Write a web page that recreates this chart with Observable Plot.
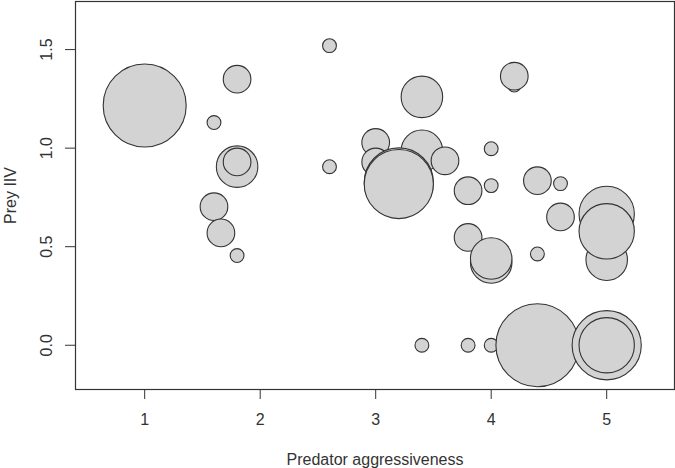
<!DOCTYPE html>
<html>
<head>
<meta charset="utf-8">
<script src="https://cdn.jsdelivr.net/npm/d3@7"></script>
<script src="https://cdn.jsdelivr.net/npm/@observablehq/plot@0.6"></script>
<style>
  html, body { margin: 0; padding: 0; background: #fff; }
  #chart svg { display: block; }
</style>
</head>
<body>
<div id="chart"></div>
<script>
// Predator aggressiveness (x), prey IIV (y), bubble size class (1..6)
const aggressiveness = [1.0, 2.6, 1.8, 1.6, 1.8, 1.8, 2.6, 3.4, 4.2, 4.2,
  3.0, 3.0, 3.4, 3.6, 3.2, 3.2, 4.0, 4.0, 3.8, 4.4,
  4.6, 5.0, 5.0, 5.0, 4.6, 3.8, 4.0, 4.0, 4.4, 3.4,
  3.8, 4.0, 4.4, 5.0, 5.0, 1.6, 1.66, 1.8];
const preyIIV = [1.216, 1.52, 1.35, 1.13, 0.906, 0.93, 0.906, 1.26, 1.32, 1.365,
  1.029, 0.93, 0.987, 0.936, 0.826, 0.818, 0.997, 0.81, 0.784, 0.835,
  0.82, 0.666, 0.434, 0.578, 0.651, 0.547, 0.42, 0.44, 0.463, 0.0,
  0.0, 0.0, 0.0, 0.0, 0.0, 0.703, 0.57, 0.455];
const sizeClass = [6, 1, 2, 1, 3, 2, 1, 3, 1, 2,
  2, 2, 3, 2, 5, 5, 1, 1, 2, 2,
  1, 4, 3, 4, 2, 2, 3, 3, 1, 1,
  1, 1, 6, 5, 4, 2, 2, 1];
const xTicks = [1, 2, 3, 4, 5];
const yTicks = [0, 0.5, 1.0, 1.5];
const yTickLabels = ["0.0", "0.5", "1.0", "1.5"];

const data = aggressiveness.map((x, i) => ({x, y: preyIIV[i], k: sizeClass[i]}));
const yLab = yTicks.map((v, i) => ({v, t: yTickLabels[i]}));

const font = "'Liberation Sans', Arial, Helvetica, sans-serif";
const ink = "#333";

const chart = Plot.plot({
  width: 675,
  height: 468,
  marginLeft: 75,
  marginRight: 1,
  marginTop: 1,
  marginBottom: 79,
  style: {fontFamily: font, fontSize: "16px", color: ink, background: "#fff"},
  x: {domain: [0.401, 5.587], label: null},
  y: {domain: [-0.2245, 1.744], label: null},
  r: {type: "linear", domain: [0, 6], range: [0, 41.5]},
  marks: [
    Plot.dot(data, {x: "x", y: "y", r: "k", fill: "#d3d3d3", stroke: ink, strokeWidth: 1.1, sort: null}),
    Plot.frame({stroke: ink, strokeWidth: 1.2}),
    Plot.axisX({ticks: xTicks, tickSize: 10, tickPadding: 14, tickFormat: d => String(d), stroke: ink, fill: ink, fontSize: 16, label: null}),
    Plot.axisY({ticks: yTicks, tickSize: 10, tickFormat: () => "", stroke: ink, label: null}),
    Plot.text(yLab, {y: "v", text: "t", frameAnchor: "left", dx: -29, rotate: -90, textAnchor: "middle", lineAnchor: "middle", fill: ink, fontSize: 16}),
    Plot.text(["Predator aggressiveness"], {frameAnchor: "bottom", dy: 70, textAnchor: "middle", lineAnchor: "middle", fill: ink, fontSize: 16}),
    Plot.text(["Prey IIV"], {frameAnchor: "left", dx: -65, rotate: -90, textAnchor: "middle", lineAnchor: "middle", fill: ink, fontSize: 16})
  ]
});
document.getElementById("chart").appendChild(chart);
</script>
</body>
</html>
